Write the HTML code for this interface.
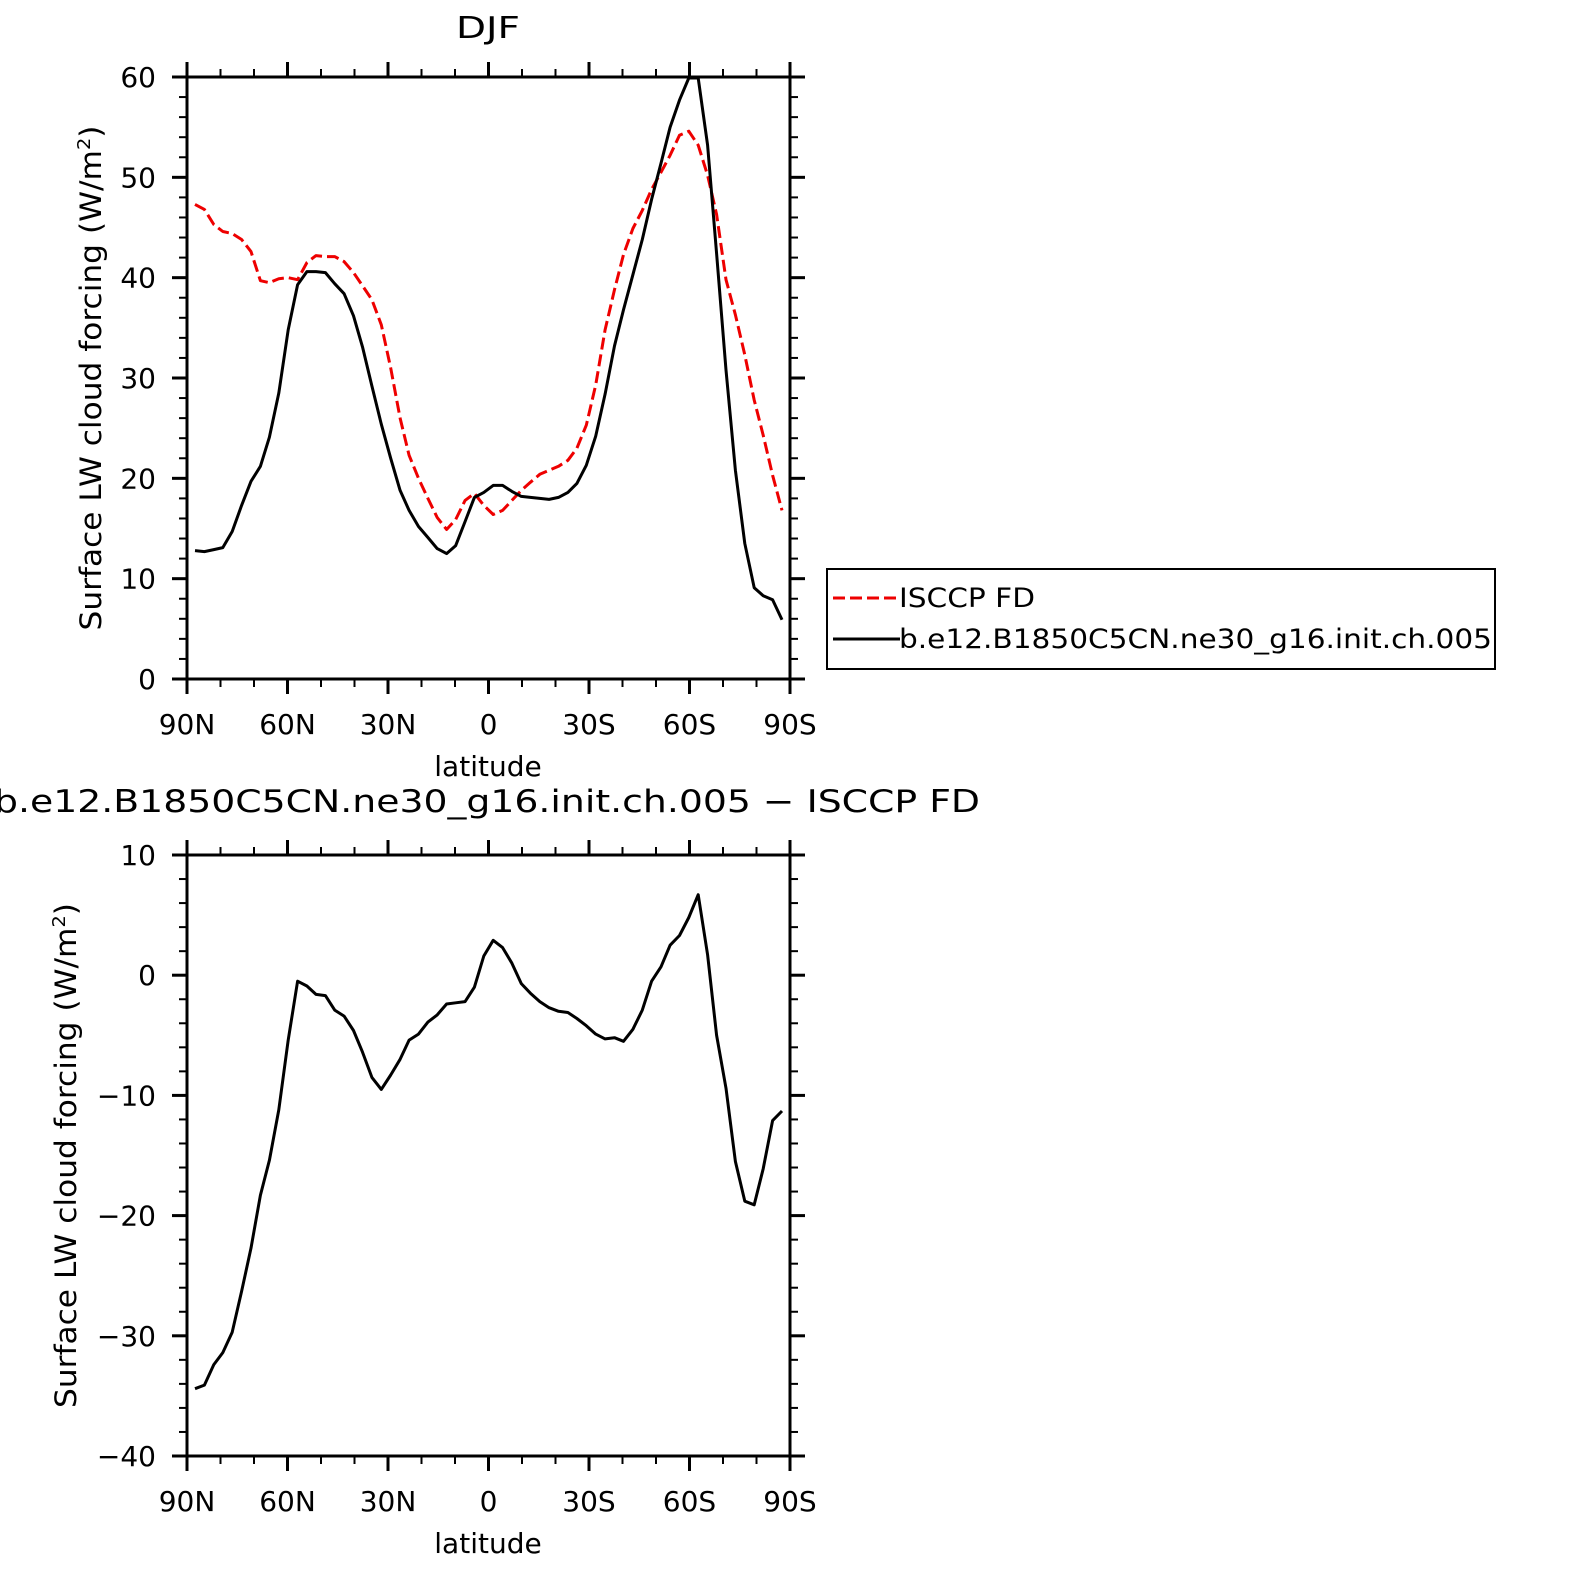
<!DOCTYPE html>
<html><head><meta charset="utf-8"><style>
body{margin:0;background:#fff;}
svg text{font-family:"DejaVu Sans","Liberation Sans",sans-serif;fill:#000;}
</style></head><body>
<svg id="c" width="1572" height="1569" viewBox="0 0 1572 1569" xmlns="http://www.w3.org/2000/svg">
<text x="456" y="38" font-size="30" textLength="64" lengthAdjust="spacingAndGlyphs">DJF</text>
<text x="-6" y="812" font-size="31" textLength="986" lengthAdjust="spacingAndGlyphs">b.e12.B1850C5CN.ne30_g16.init.ch.005 − ISCCP FD</text>
<g>
<rect x="827" y="569" width="668" height="100" fill="#fff" stroke="#000" stroke-width="2"/>
<line x1="833" y1="598" x2="900" y2="598" stroke="#e00" stroke-width="3" stroke-dasharray="12,5"/>
<text x="899" y="607" font-size="27" textLength="136" lengthAdjust="spacingAndGlyphs">ISCCP FD</text>
<line x1="833" y1="639" x2="900" y2="639" stroke="#000" stroke-width="3"/>
<text x="899" y="648" font-size="27" textLength="593" lengthAdjust="spacingAndGlyphs">b.e12.B1850C5CN.ne30_g16.init.ch.005</text>
</g>
<g id="p1"></g><g id="p2"></g>
</svg>
<script>
const lats=[87.6,84.8,82.0,79.3,76.5,73.7,70.9,68.1,65.4,62.6,59.8,57.0,54.2,51.5,48.7,45.9,43.1,40.3,37.6,34.8,32.0,29.2,26.4,23.7,20.9,18.1,15.3,12.5,9.8,7.0,4.2,1.4,-1.4,-4.2,-7.0,-9.8,-12.5,-15.3,-18.1,-20.9,-23.7,-26.4,-29.2,-32.0,-34.8,-37.6,-40.3,-43.1,-45.9,-48.7,-51.5,-54.2,-57.0,-59.8,-62.6,-65.4,-68.1,-70.9,-73.7,-76.5,-79.3,-82.0,-84.8,-87.6];
const model=[12.8,12.7,12.9,13.1,14.7,17.3,19.7,21.2,24.1,28.5,34.8,39.3,40.6,40.6,40.5,39.4,38.4,36.2,33.1,29.2,25.4,22.0,18.8,16.8,15.2,14.1,13.0,12.5,13.3,15.7,18.1,18.6,19.3,19.3,18.7,18.2,18.1,18.0,17.9,18.1,18.6,19.5,21.3,24.2,28.4,33.2,36.8,40.3,43.8,47.8,51.4,55.0,57.7,59.9,59.9,53.2,42.4,30.8,20.8,13.5,9.1,8.3,7.9,5.9];
const obs=[47.3,46.8,45.3,44.6,44.4,43.8,42.6,39.7,39.5,39.9,40.0,39.8,41.5,42.2,42.1,42.1,41.6,40.5,39.2,37.8,35.3,31.0,26.0,22.3,20.0,18.0,16.1,14.9,15.9,17.8,18.5,17.3,16.4,16.8,17.8,18.8,19.6,20.4,20.8,21.2,21.8,23.0,25.3,29.3,34.8,38.8,42.3,44.9,46.7,48.8,50.5,52.2,54.2,54.6,53.2,50.2,46.3,39.8,36.3,32.3,27.8,24.3,20.3,16.8];
const diff=[-34.4,-34.1,-32.4,-31.4,-29.7,-26.3,-22.7,-18.3,-15.4,-11.2,-5.4,-0.5,-0.9,-1.6,-1.7,-2.9,-3.4,-4.6,-6.4,-8.5,-9.5,-8.3,-7.0,-5.4,-4.9,-3.9,-3.3,-2.4,-2.3,-2.2,-1.0,1.6,2.9,2.3,1.0,-0.7,-1.5,-2.2,-2.7,-3.0,-3.1,-3.6,-4.2,-4.9,-5.3,-5.2,-5.5,-4.5,-2.9,-0.5,0.7,2.5,3.3,4.8,6.7,1.7,-5.0,-9.4,-15.5,-18.8,-19.1,-16.1,-12.1,-11.3];
const xTickVals=[90,60,30,0,-30,-60,-90];
const xTickLabels=["90N","60N","30N","0","30S","60S","90S"];
const topYTicks=[0,10,20,30,40,50,60];
const botYTicks=[-40,-30,-20,-10,0,10];
const NS="http://www.w3.org/2000/svg";
function mk(parent,tag,attrs){const e=document.createElementNS(NS,tag);for(const k in attrs)e.setAttribute(k,attrs[k]);parent.appendChild(e);return e;}
function panel(g,top,bot,ymin,ymax,yticks,ylabelX,series,name){
  const L=187,R=790;
  const sx=v=>L+(90-v)/180*(R-L);
  const sy=v=>bot-(v-ymin)/(ymax-ymin)*(bot-top);
  const frame=mk(g,'rect',{x:L,y:top,width:R-L,height:bot-top,fill:'none',stroke:'#000','stroke-width':3});
  
  
  for(let v=90;v>=-90;v-=10){const x=sx(v);const maj=v%30===0;const len=maj?15:8;
    mk(g,'line',{x1:x,y1:top,x2:x,y2:top-len,stroke:'#000','stroke-width':maj?3:2});
    mk(g,'line',{x1:x,y1:bot,x2:x,y2:bot+len,stroke:'#000','stroke-width':maj?3:2});}
  xTickVals.forEach((v,i)=>{const t=mk(g,'text',{x:sx(v),y:bot+55,'font-size':28,'text-anchor':'middle'});t.textContent=xTickLabels[i];
    
    });
  for(let v=ymin;v<=ymax+0.01;v+=2){const y=sy(v);const maj=Math.abs(v%10)<0.01;const len=maj?15:8;
    mk(g,'line',{x1:L,y1:y,x2:L-len,y2:y,stroke:'#000','stroke-width':maj?3:2});
    mk(g,'line',{x1:R,y1:y,x2:R+len,y2:y,stroke:'#000','stroke-width':maj?3:2});}
  yticks.forEach(v=>{const t=mk(g,'text',{x:156,y:sy(v)+10,'font-size':28,'text-anchor':'end'});t.textContent=v<0?'−'+Math.abs(v):String(v);
    
    });
  const xl=mk(g,'text',{x:488,y:bot+97,'font-size':28,'text-anchor':'middle'});xl.textContent='latitude';
  
  
  const cy=(top+bot)/2;
  const yl=mk(g,'text',{x:ylabelX,y:cy,'font-size':29,'text-anchor':'middle',textLength:505,lengthAdjust:'spacingAndGlyphs',transform:`rotate(-90 ${ylabelX} ${cy})`});
  yl.innerHTML='Surface LW cloud forcing (W/m<tspan dy="-11" font-size="18">2</tspan><tspan dy="11">)</tspan>';
  
  
  series.forEach(s=>{const d=s.vals.map((v,i)=>(i?'L':'M')+sx(lats[i]).toFixed(1)+','+sy(v).toFixed(1)).join('');
    const p=mk(g,'path',{d:d,fill:'none',stroke:s.color,'stroke-width':3,'stroke-dasharray':s.dash||'none','stroke-linejoin':'round'});
    
    });
}
panel(document.getElementById('p1'),77,679,0,60,topYTicks,101,[{vals:obs,color:'#e00',dash:'12,5',name:'isccp-line'},{vals:model,color:'#000',name:'model-line'}],'top');
panel(document.getElementById('p2'),855,1456,-40,10,botYTicks,76,[{vals:diff,color:'#000',name:'difference-line'}],'bottom');
</script>
</body></html>
